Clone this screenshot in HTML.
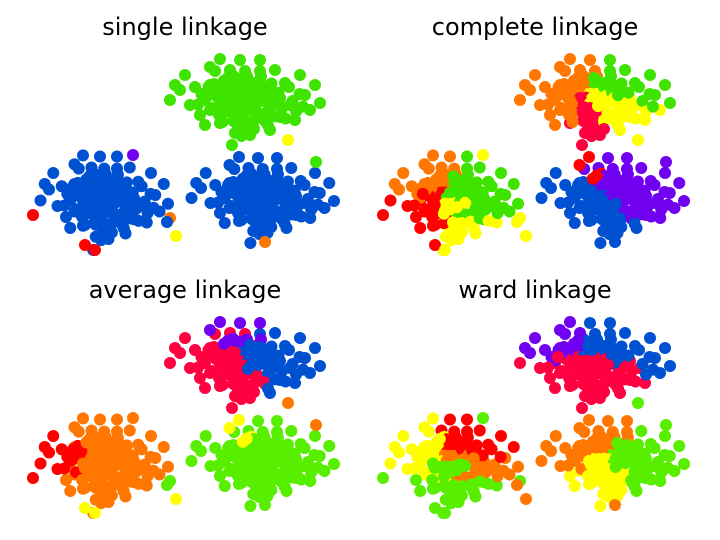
<!DOCTYPE html>
<html><head><meta charset="utf-8"><style>
html,body{margin:0;padding:0;background:#fff;}
svg{display:block;}
text{font-family:"DejaVu Sans","Liberation Sans",sans-serif;}
</style></head><body>
<svg id="c" width="720" height="540" viewBox="0 0 720 540"></svg>
<script>
// shared sample offsets (data units) around each blob centre
const offsets = [[-30,-10],[-15,-12],[0,-10],[15,-12],[30,-8],[-35,5],[-20,2],[-5,0],[10,2],[25,0],
[40,3],[-30,15],[-15,15],[0,14],[15,16],[30,14],[-20,28],[-5,27],[10,28],[25,26],
[-10,-25],[5,-24],[20,-24],[-25,-24],[45,-12],[50,10],[-45,-8],[-50,10],[-40,20],[40,22],
[-5,38],[10,40],[0,-35],[-20,-36],[20,-35],[60,-20],[65,0],[70,15],[-60,-5],[-65,-10],
[-55,-20],[55,25],[-35,30],[35,-25],[-8,50],[75,-10],[80,8],[-70,5],[30,35],[-30,-28]];
const blobCenters = [[215,45],[75,145],[233,143]];
const blobScales = [[1,1],[0.85,1.1],[0.95,1.0]];
const outliers = [[108,105],[263,90],[291,112],[8,165],[60,195],[70,200],[145,168],[240,192],[151,186],[142,172]];
const titles = ["single linkage","complete linkage","average linkage","ward linkage"];
const blobLabels = [
 ["g".repeat(50),"b".repeat(50),"b".repeat(50)],
 ["ooogg"+"oooyy"+"yoppy"+"yppyy"+"oogog"+"yoooy"+"ppoog"+"ggyoo"+"oyogp"+"ggoyo",
  "oooog"+"rrrgg"+"grrgg"+"gryyy"+"oogog"+"gorrg"+"yyoog"+"gggoo"+"oyrgy"+"ggryo",
  "buuuu"+"bbuuu"+"ubbbu"+"ubbbu"+"uuuuu"+"ubbbu"+"bburu"+"uuubb"+"bubub"+"uubbr"],
 ["ppppb"+"ppppb"+"bpppp"+"bpppp"+"ppbpb"+"bpppb"+"ppuuu"+"bbbpp"+"pbpbp"+"bbpbu",
  "ooooo"+"ooooo"+"ooooo"+"ooooo"+"ooooo"+"orroo"+"ooooo"+"ooorr"+"roooo"+"ooroo",
  "lllll"+"lllll"+"lllll"+"lllll"+"lllll"+"lllll"+"lllyl"+"lllll"+"lllll"+"lllly"],
 ["uubbb"+"ppbbb"+"ppppp"+"ppppp"+"ubbub"+"puppp"+"ppbub"+"bbbuu"+"uppbp"+"bbppu",
  "yyrrr"+"yyooo"+"oyyoo"+"ollll"+"rrryr"+"oyyll"+"llryr"+"rooyy"+"yllrl"+"royly",
  "ooool"+"ooool"+"lyyyy"+"lyyyl"+"ooool"+"looyl"+"yyooo"+"llloo"+"olyly"+"llolo"]
];
const outlierLabels = ["uygrrrooyb","yyurryybyy","oooryyllyl","lllllllooo"];
const palette = {g:"#3ee400",l:"#58ee00",b:"#0050d2",u:"#7000f0",p:"#ff0040",r:"#ff0000",o:"#ff7700",y:"#ffff00"};
const panelOrigins = [[25,50],[375,50],[25,313],[375,313]];
// density layers: each sample is drawn again closer to the blob core
const layers = [[1,0,0],[0.7,7,6],[0.4,-4,-3]];

const svg = document.getElementById('c');
const NS = "http://www.w3.org/2000/svg";
function xS(p,v){return panelOrigins[p][0]+v;}
function yS(p,v){return panelOrigins[p][1]+v;}
function dot(p,x,y,c,name){
  const e=document.createElementNS(NS,'circle');
  e.setAttribute('cx',xS(p,x));e.setAttribute('cy',yS(p,y));e.setAttribute('r',6);
  e.setAttribute('fill',palette[c]);
  
  
  svg.appendChild(e);
}
for(let p=0;p<4;p++){
  const g=document.createElementNS(NS,'text');
  g.setAttribute('x',xS(p,160));g.setAttribute('y',yS(p,-15));
  g.setAttribute('text-anchor','middle');g.setAttribute('font-size','24');g.setAttribute('fill','#000');
  g.textContent=titles[p];
  
  
  svg.appendChild(g);
  for(let b=0;b<3;b++){
    const ctr=blobCenters[b], sc=blobScales[b];
    layers.forEach(L=>{
      offsets.forEach((o,i)=>{
        dot(p,ctr[0]+(o[0]*L[0]+L[1])*sc[0],ctr[1]+(o[1]*L[0]+L[2])*sc[1],blobLabels[p][b][i],'cluster-point');
      });
    });
  }
  outliers.forEach((o,i)=>dot(p,o[0],o[1],outlierLabels[p][i],'outlier-point'));
}
</script>
</body></html>
